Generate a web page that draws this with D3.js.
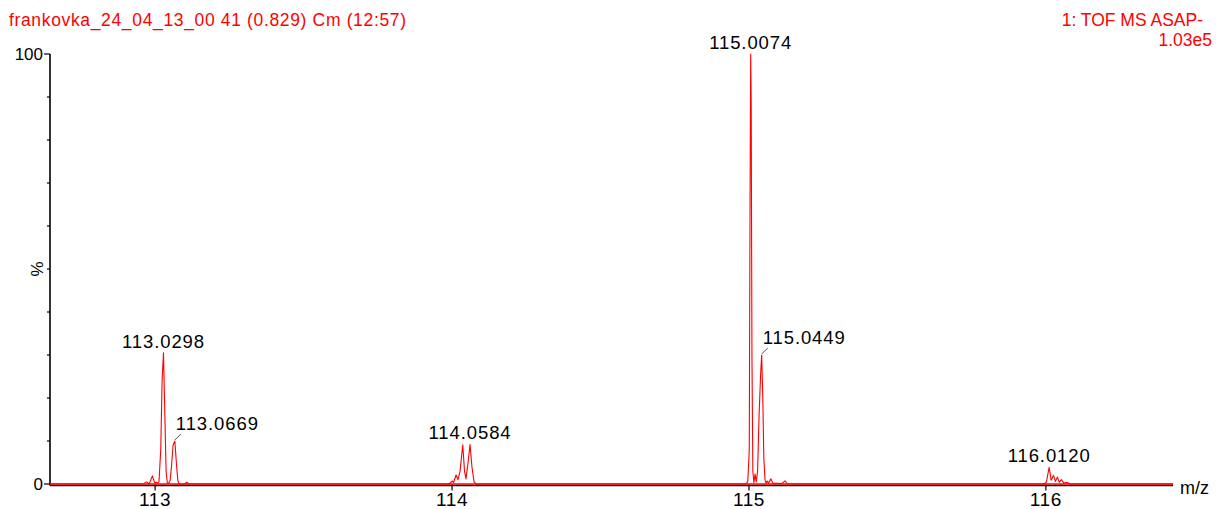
<!DOCTYPE html>
<html>
<head>
<meta charset="utf-8">
<script src="https://cdn.jsdelivr.net/npm/d3@7"></script>
<style>
  html, body { margin: 0; padding: 0; background: #fff; }
  svg { display: block; font-family: "Liberation Sans", Arial, sans-serif; }
</style>
</head>
<body>
<svg id="chart" width="1216" height="509"></svg>
<script>
// ---- data ----
const titleLeft = "frankovka_24_04_13_00 41 (0.829) Cm (12:57)";
const titleRight1 = "1: TOF MS ASAP-";
const titleRight2 = "1.03e5";
const xTicks = [113, 114, 115, 116];
const yTickLabels = [0, 100];
const yMinorTicks = [0, 10, 20, 30, 40, 50, 60, 70, 80, 90, 100];

// profile spectrum (m/z, % intensity)
const profileMz = [
  112.646,
  112.9596, 112.972, 112.980, 112.991, 112.998, 113.004, 113.008,
  113.013, 113.019, 113.0235, 113.0282, 113.0325, 113.037, 113.041,
  113.046, 113.0505, 113.055, 113.0605, 113.0665, 113.0715, 113.0765, 113.081,
  113.099, 113.1067, 113.114,
  113.990, 114.001, 114.005, 114.0135, 114.020, 114.027, 114.036, 114.042,
  114.047, 114.054, 114.0606, 114.067, 114.074, 114.081,
  114.990, 114.996, 115.0010, 115.0035, 115.0057, 115.0075, 115.0100, 115.0130,
  115.0165, 115.0205, 115.0245, 115.029, 115.034, 115.0395, 115.0428, 115.0465,
  115.050, 115.054, 115.0575, 115.0615, 115.066, 115.074, 115.080,
  115.110, 115.121, 115.130,
  115.993, 116.0017, 116.011, 116.0175, 116.0256, 116.032, 116.0387, 116.045,
  116.052, 116.0606, 116.0707, 116.081,
  116.428
];
const profileInt = [
  0,
  0, 0.5, 0, 1.9, 0.3, 0.4, 0.2,
  0.5, 8, 24, 30.5, 17, 3, 0.3,
  0.2, 0.8, 4, 9, 10, 5, 0.8, 0,
  0, 0.4, 0,
  0, 0.7, 0.3, 2.1, 1.0, 3, 9.1, 3,
  1.2, 5, 9.2, 4, 0.5, 0,
  0, 0.6, 8, 64, 100, 88, 30, 3,
  0.3, 2.3, 0.5, 3, 16, 26, 30, 20,
  6, 1, 0.2, 0.7, 0.2, 1.2, 0.2,
  0.1, 0.7, 0,
  0, 0.5, 3.9, 0.9, 2, 0.6, 1.6, 0.4,
  1.0, 0.2, 0.4, 0,
  0
];

// peak annotations
const labelMz = [113.0282, 113.0665, 114.0606, 115.0057, 115.0428, 116.011];
const labelInt = [30.5, 10, 9.2, 100, 30, 3.9];
const labelText = ["113.0298", "113.0669", "114.0584", "115.0074", "115.0449", "116.0120"];
const labelSide = [false, true, false, false, true, false];

// ---- chart ----
const svg = d3.select("#chart");
const mLeft = 50, mRight = 1173, mTop = 54, mBottom = 484;

const x = d3.scaleLinear().domain([112.646, 116.428]).range([mLeft, mRight]);
const y = d3.scaleLinear().domain([0, 100]).range([mBottom, mTop]);

// headers
svg.append("text").attr("x", 9).attr("y", 26)
  .attr("fill", "#ff0000").attr("font-size", 17.5).attr("letter-spacing", 0.65).text(titleLeft);
svg.append("text").attr("x", 1203).attr("y", 26).attr("text-anchor", "end")
  .attr("fill", "#ff0000").attr("font-size", 17.5).text(titleRight1);
svg.append("text").attr("x", 1212).attr("y", 46).attr("text-anchor", "end")
  .attr("fill", "#ff0000").attr("font-size", 17.5).text(titleRight2);

// y axis
const yAxisG = svg.append("g").attr("transform", `translate(${mLeft},0)`);
yAxisG.append("line").attr("x1", 0).attr("x2", 0).attr("y1", y(100)).attr("y2", y(0) + 1.5)
  .attr("stroke", "#000").attr("stroke-width", 1.6);
yAxisG.selectAll("line.minor").data(yMinorTicks).join("line")
  .attr("class", "minor")
  .attr("x1", d => (d === 0 || d === 100) ? -6 : -3).attr("x2", 0)
  .attr("y1", d => y(d)).attr("y2", d => y(d))
  .attr("stroke", "#000").attr("stroke-width", 1.2);
yAxisG.selectAll("text.yl").data(yTickLabels).join("text")
  .attr("class", "yl")
  .attr("x", -7).attr("y", d => y(d) + 6)
  .attr("text-anchor", "end").attr("font-size", 17).attr("fill", "#000")
  .text(d => d);
svg.append("text")
  .attr("transform", `translate(${mLeft - 7},${y(50)}) rotate(-90)`)
  .attr("text-anchor", "middle").attr("font-size", 17).attr("fill", "#000")
  .text("%");

// x axis
const xAxisG = svg.append("g").attr("transform", `translate(0,${mBottom + 1.5})`);
xAxisG.append("line").attr("x1", mLeft).attr("x2", mRight).attr("y1", 0).attr("y2", 0)
  .attr("stroke", "#000").attr("stroke-width", 1.6);
xAxisG.selectAll("line.tk").data(xTicks).join("line")
  .attr("class", "tk")
  .attr("x1", d => x(d)).attr("x2", d => x(d)).attr("y1", -1).attr("y2", 5)
  .attr("stroke", "#000").attr("stroke-width", 1.2);
xAxisG.selectAll("text.xl").data(xTicks).join("text")
  .attr("class", "xl")
  .attr("x", d => x(d)).attr("y", 20)
  .attr("text-anchor", "middle").attr("font-size", 19).attr("letter-spacing", 0.6).attr("fill", "#000")
  .text(d => d);
svg.append("text").attr("x", 1180).attr("y", 494)
  .attr("font-size", 18).attr("fill", "#000").text("m/z");

// profile line
const pts = profileMz.map((m, i) => [m, profileInt[i]]);
const line = d3.line().x(d => x(d[0])).y(d => y(d[1]));
svg.append("path").datum(pts)
  .attr("d", line)
  .attr("fill", "none").attr("stroke", "#ff0000").attr("stroke-width", 1.1)
  .attr("stroke-linejoin", "round");
// baseline emphasis
svg.append("line").attr("x1", mLeft).attr("x2", mRight).attr("y1", y(0)).attr("y2", y(0))
  .attr("stroke", "#ff0000").attr("stroke-width", 1.6);

// labels
const labels = labelText.map((t, i) => ({ t, m: labelMz[i], v: labelInt[i], side: labelSide[i] }));
labels.forEach(d => {
  const px = x(d.m), py = y(d.v);
  if (d.side) {
    svg.append("line").attr("x1", px).attr("y1", py - 1).attr("x2", px + 6).attr("y2", py - 7)
      .attr("stroke", "#555").attr("stroke-width", 1);
    svg.append("text").attr("x", px + 1).attr("y", py - 11)
      .attr("font-size", 18.5).attr("letter-spacing", 0.9).attr("fill", "#000").text(d.t);
  } else {
    svg.append("text").attr("x", px).attr("y", py - 5)
      .attr("text-anchor", "middle").attr("font-size", 18.5).attr("letter-spacing", 0.9)
      .attr("fill", "#000").text(d.t);
  }
});
</script>
</body>
</html>
